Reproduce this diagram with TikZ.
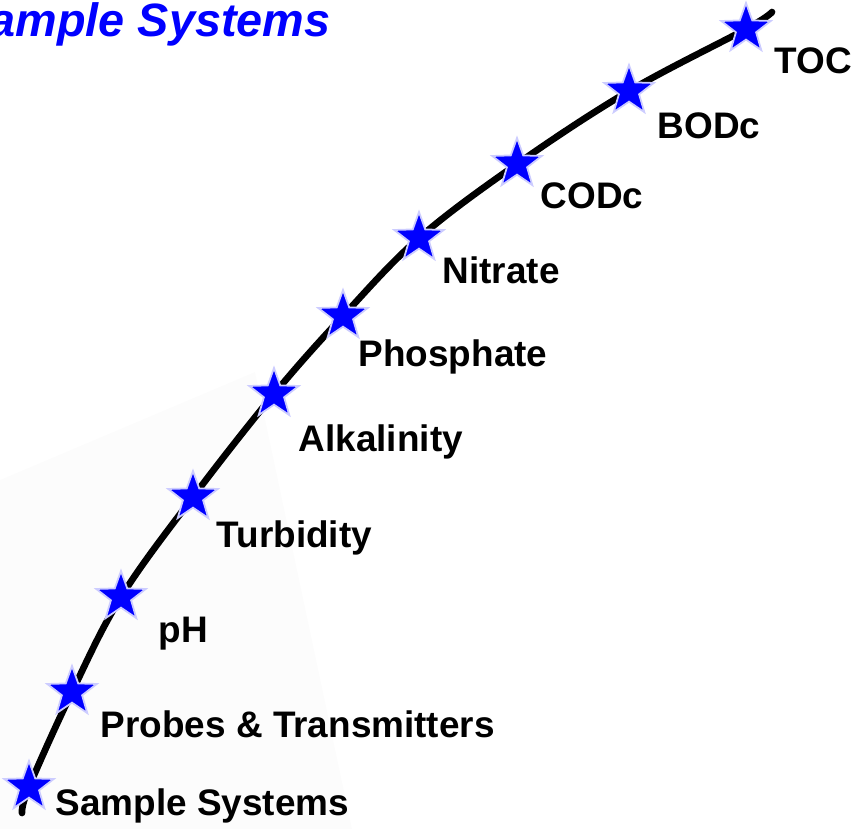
\documentclass[tikz,border=0pt]{standalone}
\usepackage{fontspec}
\setmainfont{Liberation Sans}
\usepackage{xcolor}
\usepackage{tikz}
\usetikzlibrary{shapes.geometric}

\begin{document}
\begin{tikzpicture}[
    x=0.01cm, y=-0.01cm,
    every node/.style={font=\fontsize{10.5}{12}\selectfont\bfseries},
    bluestar/.style={star, star points=5, star point ratio=2.45, minimum size=0.52cm,
        inner sep=0pt, fill=blue, draw=blue!20, line width=0.5pt},
    steplabel/.style={anchor=base west, inner sep=0pt, text=black}
]

% Canvas
\useasboundingbox (0,0) rectangle (854,829);
\clip (0,0) rectangle (854,829);

% Faint backdrop on the left
\fill[gray!2.5] (0,480) -- (255,372) -- (352,829) -- (0,829) -- cycle;

% Title (cut off at the left edge)
\node[anchor=base east, inner sep=0pt, text=blue,
      font=\fontsize{13.3}{15}\selectfont\bfseries\itshape] (title) at (331,36) {Sample Systems};

% Points along the curve
\foreach \n/\sx/\sy in {0/29/787, 1/72/692, 2/121/597, 3/193/497, 4/274/394,
                        5/343/316, 6/419/238, 7/517/164, 8/629/91, 9/746/29} {
    \coordinate (p\n) at (\sx,\sy);
}
\coordinate (start) at (22,813);
\coordinate (end) at (772,12);

% Curve
\draw[line width=1.9pt, line cap=round] plot[smooth, tension=0.6]
    coordinates {(start) (p0) (p1) (p2) (p3) (p4) (p5) (p6) (p7) (p8) (p9) (end)};

% Stars
\foreach \n in {0,...,9} {
    \node[bluestar] (s\n) at (p\n) {};
}

% Labels
\foreach \n/\lx/\ly/\txt in {0/55/815/Sample Systems, 1/100/737/Probes \& Transmitters,
                             2/158/642/pH, 3/216/547/Turbidity, 4/298/451/Alkalinity,
                             5/358/366/Phosphate, 6/442/283/Nitrate, 7/540/208/CODc,
                             8/657/138/BODc, 9/774/73/TOC} {
    \node[steplabel] (l\n) at (\lx,\ly) {\txt};
}

\end{tikzpicture}
\end{document}
